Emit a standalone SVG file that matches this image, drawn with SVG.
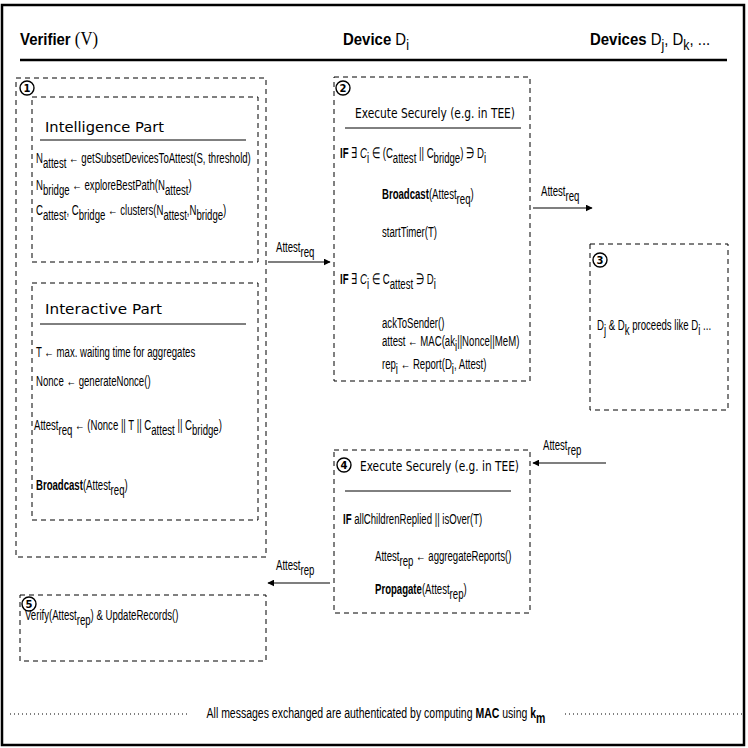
<svg xmlns="http://www.w3.org/2000/svg" width="748" height="748" viewBox="0 0 748 748">
<style>
.t{font-family:'Liberation Sans',Arial,sans-serif;font-size:15px;fill:#000}
.hd{font-family:'Liberation Sans',Arial,sans-serif;font-size:17px;fill:#000}
.b{font-weight:bold}
.ti{font-family:'DejaVu Sans',sans-serif;font-size:14px;fill:#000}
.num{font-family:'DejaVu Sans',sans-serif;font-size:10px;font-weight:bold;fill:#000;text-anchor:middle}
.box{fill:none;stroke:#000;stroke-width:1;stroke-dasharray:5 4}
.ul{stroke:#000;stroke-width:1}
.cir{fill:#fff;stroke:#000;stroke-width:1.4}
.arr{stroke:#000;stroke-width:1.2;fill:none;marker-end:url(#ah)}
.dot{stroke:#000;stroke-width:1.2;stroke-dasharray:1 3}
</style>
<defs>
<marker id="ah" viewBox="0 0 10 10" refX="9" refY="5" markerWidth="7" markerHeight="7" markerUnits="userSpaceOnUse" orient="auto">
<path d="M0,0 L10,5 L0,10 z" fill="#000"/>
</marker>
</defs>
<rect x="2" y="5" width="742" height="740" fill="#fff" stroke="#000" stroke-width="2.5"/>

<g id="header">
<text class="hd b" transform="matrix(0.88 0 0 1 20 45)">Verifier <tspan font-family="'Liberation Serif',serif" font-weight="normal" font-size="19">(V)</tspan></text>
<text class="hd" transform="matrix(0.88 0 0 1 343 45)"><tspan class="b">Device</tspan> D<tspan dy="5" font-size="14">i</tspan></text>
<text class="hd" transform="matrix(0.88 0 0 1 590 45)"><tspan class="b">Devices</tspan> D<tspan dy="5" font-size="14">j</tspan><tspan dy="-5">, D</tspan><tspan dy="5" font-size="14">k</tspan><tspan dy="-5">, ...</tspan></text>
<line x1="20" y1="60" x2="727" y2="60" stroke="#000" stroke-width="2.5"/>
</g>

<g id="node1">
<rect class="box" x="16" y="78" width="250" height="479"/>
<circle class="cir" cx="27" cy="88" r="7"/>
<text class="num" x="27" y="92">1</text>
</g>

<g id="intelligence">
<rect class="box" x="32" y="97" width="226" height="165"/>
<text class="ti" x="45" y="132" textLength="119" lengthAdjust="spacingAndGlyphs">Intelligence Part</text>
<line class="ul" x1="40" y1="140" x2="246" y2="140"/>
<text class="t" transform="matrix(0.64 0 0 1 36 163)">N<tspan dy="5">attest</tspan><tspan dy="-5"> ← getSubsetDevicesToAttest(S, threshold)</tspan></text>
<text class="t" transform="matrix(0.64 0 0 1 36 190)">N<tspan dy="5">bridge</tspan><tspan dy="-5"> ← exploreBestPath(N</tspan><tspan dy="5">attest</tspan><tspan dy="-5">)</tspan></text>
<text class="t" transform="matrix(0.64 0 0 1 36 215)">C<tspan dy="5">attest</tspan><tspan dy="-5">, C</tspan><tspan dy="5">bridge</tspan><tspan dy="-5"> ← clusters(N</tspan><tspan dy="5">attest</tspan><tspan dy="-5">,N</tspan><tspan dy="5">bridge</tspan><tspan dy="-5">)</tspan></text>
</g>

<g id="interactive">
<rect class="box" x="32" y="283" width="226" height="237"/>
<text class="ti" x="45" y="314" textLength="117" lengthAdjust="spacingAndGlyphs">Interactive Part</text>
<line class="ul" x1="40" y1="324" x2="246" y2="324"/>
<text class="t" transform="matrix(0.64 0 0 1 36 357)">T ← max. waiting time for aggregates</text>
<text class="t" transform="matrix(0.64 0 0 1 36 386)">Nonce ← generateNonce()</text>
<text class="t" transform="matrix(0.64 0 0 1 34 430)">Attest<tspan dy="5">req</tspan><tspan dy="-5"> ← (Nonce || T || C</tspan><tspan dy="5">attest</tspan><tspan dy="-5"> || C</tspan><tspan dy="5">bridge</tspan><tspan dy="-5">)</tspan></text>
<text class="t" transform="matrix(0.64 0 0 1 36 490)"><tspan class="b">Broadcast</tspan>(Attest<tspan dy="5">req</tspan><tspan dy="-5">)</tspan></text>
</g>

<g id="node2">
<rect class="box" x="334" y="77" width="196" height="304"/>
<circle class="cir" cx="343" cy="88" r="7"/>
<text class="num" x="343" y="92">2</text>
<text class="ti" x="355" y="118" textLength="160" lengthAdjust="spacingAndGlyphs">Execute Securely (e.g. in TEE)</text>
<line class="ul" x1="345" y1="128" x2="521" y2="128"/>
<text class="t" transform="matrix(0.64 0 0 1 340 158)"><tspan class="b">IF</tspan> ∃ <tspan font-style="italic">C</tspan><tspan dy="5">i</tspan><tspan dy="-5"> ∈ (C</tspan><tspan dy="5">attest</tspan><tspan dy="-5"> || C</tspan><tspan dy="5">bridge</tspan><tspan dy="-5">) ∋ D</tspan><tspan dy="5">i</tspan></text>
<text class="t" transform="matrix(0.64 0 0 1 382 199)"><tspan class="b">Broadcast</tspan>(Attest<tspan dy="5">req</tspan><tspan dy="-5">)</tspan></text>
<text class="t" transform="matrix(0.64 0 0 1 382 237)">startTimer(T)</text>
<text class="t" transform="matrix(0.64 0 0 1 340 284)"><tspan class="b">IF</tspan> ∃ <tspan font-style="italic">C</tspan><tspan dy="5">i</tspan><tspan dy="-5"> ∈ C</tspan><tspan dy="5">attest</tspan><tspan dy="-5"> ∋ D</tspan><tspan dy="5">i</tspan></text>
<text class="t" transform="matrix(0.64 0 0 1 382 328)">ackToSender()</text>
<text class="t" transform="matrix(0.64 0 0 1 382 346)">attest ← MAC(ak<tspan dy="5">i</tspan><tspan dy="-5">||Nonce||MeM)</tspan></text>
<text class="t" transform="matrix(0.64 0 0 1 382 369)">rep<tspan dy="5">i</tspan><tspan dy="-5"> ← Report(D</tspan><tspan dy="5">i</tspan><tspan dy="-5">, Attest)</tspan></text>
</g>

<g id="node3">
<rect class="box" x="590" y="244" width="138" height="166"/>
<circle class="cir" cx="600" cy="260" r="7"/>
<text class="num" x="600" y="264">3</text>
<text class="t" transform="matrix(0.64 0 0 1 597 330)">D<tspan dy="5">j</tspan><tspan dy="-5"> &amp; D</tspan><tspan dy="5">k</tspan><tspan dy="-5"> proceeds like D</tspan><tspan dy="5">i</tspan><tspan dy="-5"> ...</tspan></text>
</g>

<g id="node4">
<rect class="box" x="334" y="450" width="196" height="163"/>
<circle class="cir" cx="344" cy="465" r="7"/>
<text class="num" x="344" y="469">4</text>
<text class="ti" x="360" y="471" textLength="159" lengthAdjust="spacingAndGlyphs">Execute Securely (e.g. in TEE)</text>
<line class="ul" x1="345" y1="491" x2="511" y2="491"/>
<text class="t" transform="matrix(0.64 0 0 1 343 524)"><tspan class="b">IF</tspan> allChildrenReplied || isOver(T)</text>
<text class="t" transform="matrix(0.64 0 0 1 375 561)">Attest<tspan dy="5">rep</tspan><tspan dy="-5"> ← aggregateReports()</tspan></text>
<text class="t" transform="matrix(0.64 0 0 1 375 594)"><tspan class="b">Propagate</tspan>(Attest<tspan dy="5">rep</tspan><tspan dy="-5">)</tspan></text>
</g>

<g id="node5">
<rect class="box" x="20" y="595" width="246" height="66"/>
<circle class="cir" cx="29" cy="604" r="7"/>
<text class="num" x="29" y="608">5</text>
<text class="t" transform="matrix(0.64 0 0 1 25 620)">Verify(Attest<tspan dy="5">rep</tspan><tspan dy="-5">) &amp; UpdateRecords()</tspan></text>
</g>

<g id="connectors">
<line class="arr" x1="268" y1="262" x2="330" y2="262"/>
<text class="t" transform="matrix(0.64 0 0 1 276 252)">Attest<tspan dy="5">req</tspan></text>
<line class="arr" x1="533" y1="208" x2="592" y2="208"/>
<text class="t" transform="matrix(0.64 0 0 1 541 196)">Attest<tspan dy="5">req</tspan></text>
<line class="arr" x1="606" y1="463" x2="533" y2="463"/>
<text class="t" transform="matrix(0.64 0 0 1 543 450)">Attest<tspan dy="5">rep</tspan></text>
<line class="arr" x1="330" y1="583" x2="268" y2="583"/>
<text class="t" transform="matrix(0.64 0 0 1 276 570)">Attest<tspan dy="5">rep</tspan></text>
</g>

<g id="footer">
<line class="dot" x1="10" y1="714" x2="190" y2="714"/>
<line class="dot" x1="565" y1="714" x2="742" y2="714"/>
<text class="t" font-size="15.5" transform="matrix(0.7 0 0 1 376 718)" text-anchor="middle">All messages exchanged are authenticated by computing <tspan class="b">MAC</tspan> using <tspan class="b">k</tspan><tspan class="b" dy="5">m</tspan></text>
</g>
</svg>
